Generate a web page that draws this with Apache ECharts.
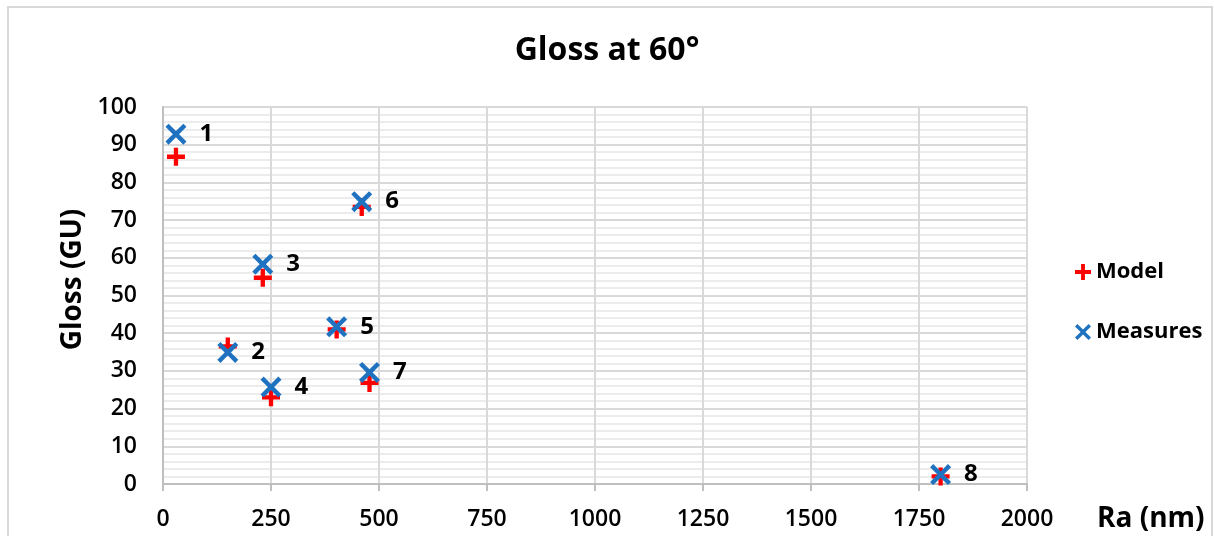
<!DOCTYPE html>
<html>
<head>
<meta charset="utf-8">
<script src="https://cdn.jsdelivr.net/npm/echarts@6/dist/echarts.min.js"></script>
<style>
html,body{margin:0;padding:0;background:#fff;}
#chart{width:1214px;height:536px;}
</style>
</head>
<body>
<div id="chart"></div>
<script>
// ---- Data ----
const sampleLabels = ['1','2','3','4','5','6','7','8'];
const raValues = [30, 150, 231, 250, 402, 460, 478, 1800];
const modelGloss = [86.8, 36.5, 54.7, 23.0, 41.0, 73.5, 26.8, 2.0];
const measuredGloss = [92.8, 34.9, 58.3, 25.7, 41.7, 74.9, 29.6, 2.5];
const xTicks = [0, 250, 500, 750, 1000, 1250, 1500, 1750, 2000];
const yTicks = [0, 10, 20, 30, 40, 50, 60, 70, 80, 90, 100];

const FONT = '"Open Sans", "Noto Sans", sans-serif';
const PLUS = 'path://M3.8,0H6.2V3.8H10V6.2H6.2V10H3.8V6.2H0V3.8H3.8Z';
const CROSS = 'path://M0,1.5L1.5,0L5,3.5L8.5,0L10,1.5L6.5,5L10,8.5L8.5,10L5,6.5L1.5,10L0,8.5L3.5,5Z';

const modelData = raValues.map((x, i) => ({ name: sampleLabels[i], value: [x, modelGloss[i]] }));
const measuredData = raValues.map((x, i) => ({ name: sampleLabels[i], value: [x, measuredGloss[i]] }));

const chart = echarts.init(document.getElementById('chart'), null, { renderer: 'canvas' });
chart.setOption({
  animation: false,
  backgroundColor: '#ffffff',
  title: {
    text: 'Gloss at 60°',
    left: 'center',
    top: 30,
    textStyle: { fontFamily: FONT, fontWeight: 'bold', fontSize: 32, color: '#000' }
  },
  graphic: [{
    type: 'rect',
    shape: { x: 8, y: 7, width: 1204, height: 560 },
    style: { fill: 'none', stroke: '#d9d9d9', lineWidth: 2 },
    silent: true
  }],
  legend: {
    orient: 'vertical',
    left: 1070,
    top: 256,
    itemGap: 38,
    itemWidth: 16,
    itemHeight: 16,
    textStyle: { fontFamily: FONT, fontWeight: 'bold', fontSize: 22, color: '#000' },
    data: ['Model', 'Measures']
  },
  grid: { left: 163, right: 187, top: 107, bottom: 52, containLabel: false },
  xAxis: {
    type: 'value',
    min: xTicks[0],
    max: xTicks[xTicks.length - 1],
    interval: xTicks[1] - xTicks[0],
    name: 'Ra (nm)',
    nameLocation: 'end',
    nameGap: 70,
    nameTextStyle: { fontFamily: FONT, fontWeight: 'bold', fontSize: 28, color: '#000', align: 'left', verticalAlign: 'top', padding: [21, 0, 0, 0] },
    axisLine: { show: true, lineStyle: { color: '#bfbfbf', width: 2 } },
    axisTick: { show: true, length: 7, lineStyle: { color: '#bfbfbf', width: 2 } },
    axisLabel: { fontFamily: FONT, fontSize: 23, fontWeight: 600, color: '#000', margin: 24, formatter: v => String(v) },
    splitLine: { show: true, lineStyle: { color: '#d9d9d9', width: 2 } },
    minorTick: { show: false },
    minorSplitLine: { show: false }
  },
  yAxis: {
    type: 'value',
    min: yTicks[0],
    max: yTicks[yTicks.length - 1],
    interval: yTicks[1] - yTicks[0],
    name: 'Gloss (GU)',
    nameLocation: 'middle',
    nameGap: 74,
    nameRotate: 90,
    nameTextStyle: { fontFamily: FONT, fontWeight: 'bold', fontSize: 28, color: '#000', padding: [0, 0, 0, 32] },
    axisLine: { show: true, lineStyle: { color: '#bfbfbf', width: 2 } },
    axisTick: { show: false },
    axisLabel: { fontFamily: FONT, fontSize: 23, fontWeight: 600, color: '#000', margin: 26, formatter: v => String(v) },
    splitLine: { show: true, lineStyle: { color: '#d9d9d9', width: 2 } },
    minorTick: { show: false, splitNumber: 5 },
    minorSplitLine: { show: true, lineStyle: { color: '#e6e6e6', width: 1.5 } }
  },
  series: [
    {
      name: 'Model',
      type: 'scatter',
      symbol: PLUS,
      symbolSize: 18,
      itemStyle: { color: '#ff0000', opacity: 1 },
      data: modelData,
      z: 2
    },
    {
      name: 'Measures',
      type: 'scatter',
      symbol: CROSS,
      symbolSize: 21,
      itemStyle: { color: '#1f72c0', opacity: 1 },
      data: measuredData,
      z: 3,
      label: {
        show: true,
        position: 'right',
        distance: 13,
        formatter: p => p.name,
        fontFamily: FONT,
        fontWeight: 'bold',
        fontSize: 24,
        color: '#000'
      }
    }
  ]
});
</script>
</body>
</html>
